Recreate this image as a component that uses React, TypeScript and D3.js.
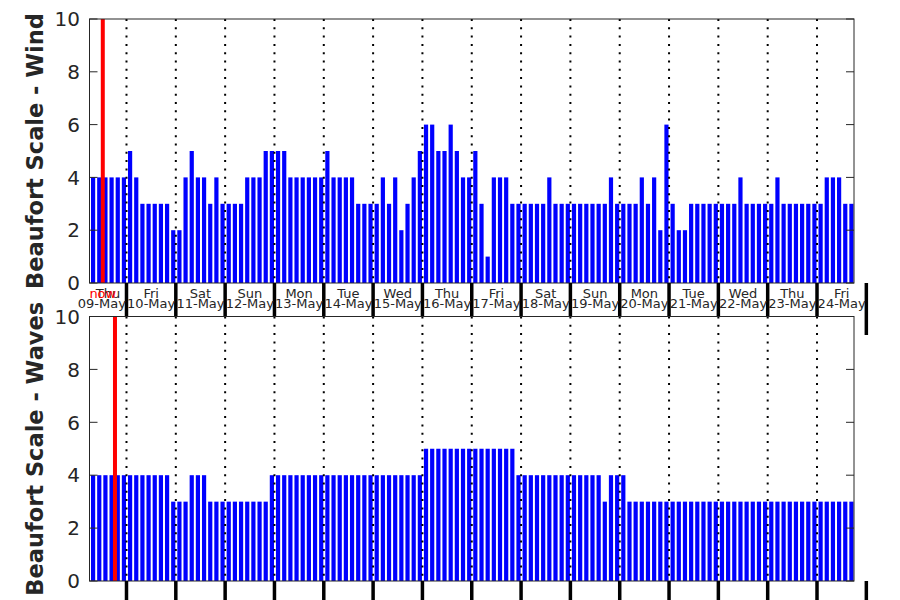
import React from "react";
import * as d3 from "d3";

// 3-hourly Beaufort values, 09-May 08:00 .. 24-May 17:00
const windValues = [
  4, 4, 4, 4, 4, 4,
  5, 4, 3, 3, 3, 3, 3, 2,
  2, 4, 5, 4, 4, 3, 4, 3,
  3, 3, 3, 4, 4, 4, 5, 5,
  5, 5, 4, 4, 4, 4, 4, 4,
  5, 4, 4, 4, 4, 3, 3, 3,
  3, 4, 3, 4, 2, 3, 4, 5,
  6, 6, 5, 5, 6, 5, 4, 4,
  5, 3, 1, 4, 4, 4, 3, 3,
  3, 3, 3, 3, 4, 3, 3, 3,
  3, 3, 3, 3, 3, 3, 4, 3,
  3, 3, 3, 4, 3, 4, 2, 6,
  3, 2, 2, 3, 3, 3, 3, 3,
  3, 3, 3, 4, 3, 3, 3, 3,
  3, 4, 3, 3, 3, 3, 3, 3,
  3, 4, 4, 4, 3, 3,
];

const waveValues = [
  4, 4, 4, 4, 4, 4,
  4, 4, 4, 4, 4, 4, 4, 3,
  3, 3, 4, 4, 4, 3, 3, 3,
  3, 3, 3, 3, 3, 3, 3, 4,
  4, 4, 4, 4, 4, 4, 4, 4,
  4, 4, 4, 4, 4, 4, 4, 4,
  4, 4, 4, 4, 4, 4, 4, 4,
  5, 5, 5, 5, 5, 5, 5, 5,
  5, 5, 5, 5, 5, 5, 5, 4,
  4, 4, 4, 4, 4, 4, 4, 4,
  4, 4, 4, 4, 4, 3, 4, 4,
  4, 3, 3, 3, 3, 3, 3, 3,
  3, 3, 3, 3, 3, 3, 3, 3,
  3, 3, 3, 3, 3, 3, 3, 3,
  3, 3, 3, 3, 3, 3, 3, 3,
  3, 3, 3, 3, 3, 3,
];

const dayNames = ["Thu", "Fri", "Sat", "Sun", "Mon", "Tue", "Wed", "Thu", "Fri", "Sat", "Sun", "Mon", "Tue", "Wed", "Thu", "Fri"];
const dateLabels = ["09-May", "10-May", "11-May", "12-May", "13-May", "14-May", "15-May", "16-May", "17-May", "18-May", "19-May", "20-May", "21-May", "22-May", "23-May", "24-May"];
const yTicks = [0, 2, 4, 6, 8, 10];

const axisStart = Date.UTC(2024, 4, 9, 6, 0);
const axisEnd = Date.UTC(2024, 4, 24, 18, 0);
const firstBar = Date.UTC(2024, 4, 9, 7, 45);
const stepMs = 3 * 3600 * 1000;
const nowWind = Date.UTC(2024, 4, 9, 12, 28);
const nowWaves = Date.UTC(2024, 4, 9, 18, 24);

const FONT = "DejaVu Sans, sans-serif";
const INK = "#262626";

const L = 89.5;
const R = 854;

const x = d3.scaleUtc().domain([axisStart, axisEnd]).range([L, R]);
const midnightsAll = d3.utcDay.range(new Date(Date.UTC(2024, 4, 10)), new Date(Date.UTC(2024, 4, 26)));
const midnightsIn = midnightsAll.filter((d) => +d < axisEnd);
const dayNoons = dateLabels.map((_, i) => Date.UTC(2024, 4, 9 + i, 12));
// day-name anchors: middle of the visible part of each day
const dayMids = dateLabels.map((_, i) => {
  const s = Math.max(Date.UTC(2024, 4, 9 + i), axisStart);
  const e = Date.UTC(2024, 4, 10 + i);
  return i === 0 ? (s + e) / 2 : Date.UTC(2024, 4, 9 + i, 12);
});

function Panel({ values, top, bottom, nowT, showLabels, label }) {
  const y = d3.scaleLinear().domain([0, 10]).range([bottom, top]);
  const bw = 4.2;
  const times = values.map((_, i) => firstBar + i * stepMs);
  const nx = x(nowT);
  return (
    <g>
      <rect x={L} y={top} width={R - L} height={bottom - top} fill="#fff" />
      {values.map((v, i) => (
        <rect key={i} x={x(times[i]) - bw / 2} y={y(v)} width={bw} height={y(0) - y(v)} fill="#0000ff" />
      ))}
      {midnightsIn.map((d, i) => (
        <line key={i} x1={x(d)} x2={x(d)} y1={top} y2={bottom} stroke="#000" strokeWidth={2} strokeDasharray="2 6.3" />
      ))}
      <line x1={nx} x2={nx} y1={top} y2={bottom} stroke="#ff0000" strokeWidth={4} />
      <rect x={L} y={top} width={R - L} height={bottom - top} fill="none" stroke={INK} strokeWidth={1} />
      {yTicks.map((t) => (
        <g key={t}>
          <line x1={L} x2={L + 8} y1={y(t)} y2={y(t)} stroke={INK} />
          <line x1={R - 8} x2={R} y1={y(t)} y2={y(t)} stroke={INK} />
          <text x={80} y={y(t)} dy="0.36em" textAnchor="end" fontSize={20} fontFamily={FONT} fill={INK}>{t}</text>
        </g>
      ))}
      {midnightsAll.map((d, i) => (
        <line key={i} x1={x(d)} x2={x(d)} y1={bottom} y2={bottom + 52} stroke="#000" strokeWidth={3.5} />
      ))}
      {showLabels && dateLabels.map((dl, i) => (
        <g key={dl}>
          <text x={x(dayMids[i])} y={bottom + 15} textAnchor="middle" fontSize={13} fontFamily={FONT} fill={INK}>{dayNames[i]}</text>
          <text x={x(dayNoons[i])} y={bottom + 25} textAnchor="middle" fontSize={13} fontFamily={FONT} fill={INK}>{dl}</text>
        </g>
      ))}
      {showLabels && (
        <text x={nx} y={bottom + 15} textAnchor="middle" fontSize={13} fontFamily={FONT} fill="#ff0000">now</text>
      )}
      <text transform={`translate(43,${(top + bottom) / 2}) rotate(-90)`} textAnchor="middle" fontSize={22.5} fontWeight="bold" fontFamily={FONT} fill={INK}>{label}</text>
    </g>
  );
}

export default function App() {
  return (
    <svg width={900} height={600} style={{ position: "absolute", left: 0, top: 0, background: "#fff" }}>
      <rect width={900} height={600} fill="#fff" />
      <Panel values={windValues} top={19} bottom={283} nowT={nowWind} showLabels={true} label="Beaufort Scale - Wind" />
      <Panel values={waveValues} top={316.5} bottom={581} nowT={nowWaves} showLabels={false} label="Beaufort Scale - Waves" />
    </svg>
  );
}
